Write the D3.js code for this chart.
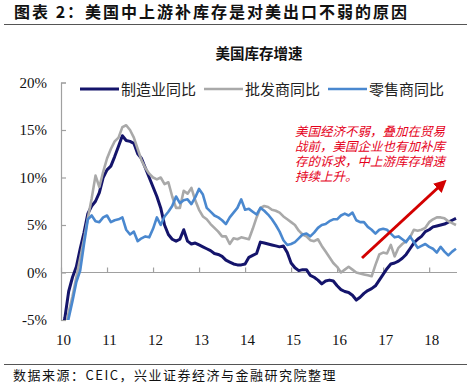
<!DOCTYPE html>
<html>
<head>
<meta charset="utf-8">
<script src="https://cdn.jsdelivr.net/npm/d3@7"></script>
<style>
  body { margin: 0; background: #fff; }
  svg { display: block; }
</style>
</head>
<body>
<svg id="chart" width="467" height="384"></svg>
<script>
// monthly, Jan 2010 .. Aug 2018
var manufacturing = [-6.5,-4.8,-2.0,-0.5,0.6,2.5,4.2,6.2,7.0,7.5,8.4,10.0,
  10.8,11.2,12.2,13.3,14.4,13.9,13.8,13.6,12.5,12.0,11.0,10.0,
  9.0,8.0,6.8,5.0,4.0,3.5,3.3,3.5,4.5,3.3,3.0,3.1,
  2.9,2.7,2.5,2.3,2.0,1.9,1.7,1.3,1.1,0.9,0.8,0.8,
  0.9,1.6,1.8,2.0,3.2,3.1,3.0,2.9,2.8,2.7,2.8,2.1,
  1.0,0.5,0.2,0.3,0.3,-0.3,-0.5,-0.8,-1.2,-0.9,-0.8,-0.9,
  -1.4,-1.8,-2.0,-2.1,-2.4,-2.9,-2.6,-2.2,-1.9,-1.7,-1.4,-0.8,
  -0.2,0.4,0.9,1.0,1.2,1.5,1.9,2.5,3.1,3.5,3.8,4.3,
  4.5,4.8,4.9,5.0,5.1,5.3,5.5,5.7];
var wholesale = [-8.0,-6.2,-4.2,-2.5,-0.5,1.5,3.5,5.7,7.8,10.2,9.0,10.6,
  12.0,13.0,13.8,14.2,15.3,15.5,15.0,14.2,13.0,11.8,11.0,10.4,
  10.0,9.8,10.0,9.3,9.5,8.0,6.8,6.8,8.6,8.3,8.9,7.6,
  6.6,5.9,5.6,5.1,4.7,4.3,3.8,3.8,3.0,3.6,3.5,3.7,
  3.6,3.5,4.6,5.8,6.8,7.0,6.9,6.6,6.5,6.3,5.9,5.6,
  5.3,5.0,4.4,4.0,3.8,3.4,3.3,3.5,2.8,2.2,1.6,1.0,
  0.6,0.0,0.3,0.6,0.3,0.0,-0.1,-0.2,-0.3,-0.4,0.8,1.9,
  2.1,2.0,2.9,1.7,2.6,3.0,3.3,3.7,4.5,4.4,4.5,4.7,
  5.3,5.6,5.8,5.8,5.7,5.4,5.2,5.0];
var retail = [-9.5,-7.0,-4.8,-3.0,-1.0,0.2,3.0,5.6,6.0,5.4,5.3,5.8,
  6.0,5.3,5.5,5.6,5.8,4.5,4.0,4.3,3.3,3.6,3.8,3.7,
  4.6,5.8,5.0,5.9,6.4,7.0,8.0,7.3,7.6,7.7,7.2,7.9,
  8.8,8.2,6.8,6.4,6.0,5.8,5.5,5.1,5.8,6.3,6.8,7.7,
  6.6,6.7,6.4,6.1,6.8,6.5,6.1,5.6,5.0,4.3,3.4,2.9,
  3.0,3.2,3.6,4.0,4.1,3.8,4.2,4.7,5.0,5.1,5.4,5.6,
  5.6,6.0,6.2,6.0,6.3,5.5,5.3,5.3,4.8,4.5,4.1,4.5,
  4.6,4.5,4.1,3.7,3.8,3.5,3.2,3.8,3.2,2.6,2.8,3.0,
  2.7,2.5,2.1,2.7,2.2,1.8,2.2,2.5];

var seriesNames = ["制造业同比", "批发商同比", "零售商同比"];
var yearLabels = ["10","11","12","13","14","15","16","17","18"];
var yTicks = [-5, 0, 5, 10, 15, 20];
var noteLines = ["美国经济不弱，叠加在贸易", "战前，美国企业也有加补库", "存的诉求，中上游库存增速", "持续上升。"];

const svg = d3.select("#chart");
const colors = ["#14146b", "#a9a9a9", "#4a88cf"];
const widths = [3, 2.6, 2.6];

const x = d3.scaleLinear().domain([0, manufacturing.length - 1]).range([61, 456]);
const y = d3.scaleLinear().domain([-5, 20]).range([320, 82.5]);

// title block
svg.append("text").attr("x", 14).attr("y", 18)
  .style("font-family", "'Noto Sans CJK SC'").style("font-weight", "bold")
  .style("font-size", "16px").style("letter-spacing", "2px").attr("fill", "#111")
  .text("图表 2：美国中上游补库存是对美出口不弱的原因");
svg.append("line").attr("x1", 4).attr("x2", 467).attr("y1", 24.5).attr("y2", 24.5)
  .attr("stroke", "#555").attr("stroke-width", 1);

svg.append("text").attr("x", 259).attr("y", 59).attr("text-anchor", "middle")
  .style("font-family", "'Noto Sans CJK SC'").style("font-weight", "bold")
  .style("font-size", "14.5px").attr("fill", "#111")
  .text("美国库存增速");

// y axis
const yAxis = svg.append("g").attr("transform", "translate(61,0)")
  .call(d3.axisLeft(y).tickValues(yTicks).tickSize(-5).tickPadding(14)
    .tickFormat(d => d + "%"));
yAxis.select(".domain").attr("stroke", "#a0a0a0").attr("stroke-width", 1.2);
yAxis.selectAll(".tick line").attr("stroke", "#a0a0a0").attr("stroke-width", 1.2);
yAxis.selectAll(".tick text").style("font-family", "'Liberation Serif'")
  .style("font-size", "15px").attr("fill", "#111");

// x axis on the zero line, labels at the bottom
const yearIdx = yearLabels.map((d, i) => i * 12);
const xAxis = svg.append("g").attr("transform", `translate(0,${y(0)})`)
  .call(d3.axisTop(x).tickValues(yearIdx).tickSize(5).tickFormat(""));
xAxis.select(".domain").attr("d", `M61,0H457`).attr("stroke", "#a0a0a0").attr("stroke-width", 1.2);
xAxis.selectAll(".tick line").attr("stroke", "#a0a0a0").attr("stroke-width", 1.2);

svg.append("g").selectAll("text").data(yearLabels).enter().append("text")
  .attr("x", (d, i) => x(yearIdx[i]) + 2.5).attr("y", 345)
  .attr("text-anchor", "middle")
  .style("font-family", "'Liberation Serif'").style("font-size", "15px").attr("fill", "#111")
  .text(d => d);

// lines
svg.append("clipPath").attr("id", "plotClip").append("rect")
  .attr("x", 61).attr("y", 70).attr("width", 400).attr("height", 250);

const line = d3.line().x((d, i) => x(i)).y(d => y(d));
const plot = svg.append("g").attr("clip-path", "url(#plotClip)");
[manufacturing, wholesale, retail].forEach((s, k) => {
  plot.append("path").datum(s).attr("d", line)
    .attr("fill", "none").attr("stroke", colors[k]).attr("stroke-width", widths[k])
    .attr("stroke-linejoin", "round");
});

// legend
const legendX = [80, 204, 328];
seriesNames.forEach((n, k) => {
  svg.append("line").attr("x1", legendX[k]).attr("x2", legendX[k] + 39)
    .attr("y1", 89).attr("y2", 89).attr("stroke", colors[k]).attr("stroke-width", widths[k]);
  svg.append("text").attr("x", legendX[k] + 41).attr("y", 94.5)
    .style("font-family", "'Noto Sans CJK SC'").style("font-size", "15px").attr("fill", "#222")
    .text(n);
});

// annotation (serif first so the line boxes stay short)
svg.append("g").selectAll("text").data(noteLines).enter().append("text")
  .attr("x", 295).attr("y", (d, i) => 136 + i * 15)
  .style("font-family", "'Liberation Serif', 'Noto Sans CJK SC'").style("font-style", "italic")
  .style("font-size", "12.5px").attr("fill", "#e5001a")
  .text(d => d);

svg.append("defs").append("marker").attr("id", "arrowHead")
  .attr("viewBox", "0 0 10 10").attr("refX", 5).attr("refY", 5)
  .attr("markerWidth", 4.2).attr("markerHeight", 4.2).attr("orient", "auto")
  .append("path").attr("d", "M0,0L10,5L0,10Z").attr("fill", "#d30000");
svg.append("line").attr("x1", 362).attr("y1", 258).attr("x2", 442).attr("y2", 184)
  .attr("stroke", "#d30000").attr("stroke-width", 3).attr("marker-end", "url(#arrowHead)");

// source
svg.append("line").attr("x1", 4).attr("x2", 467).attr("y1", 364.5).attr("y2", 364.5)
  .attr("stroke", "#555").attr("stroke-width", 1);
svg.append("text").attr("x", 13).attr("y", 380)
  .style("font-family", "'Noto Sans CJK SC'").style("font-size", "13px")
  .style("letter-spacing", "1.5px").attr("fill", "#111")
  .text("数据来源：CEIC，兴业证券经济与金融研究院整理");
</script>
</body>
</html>
